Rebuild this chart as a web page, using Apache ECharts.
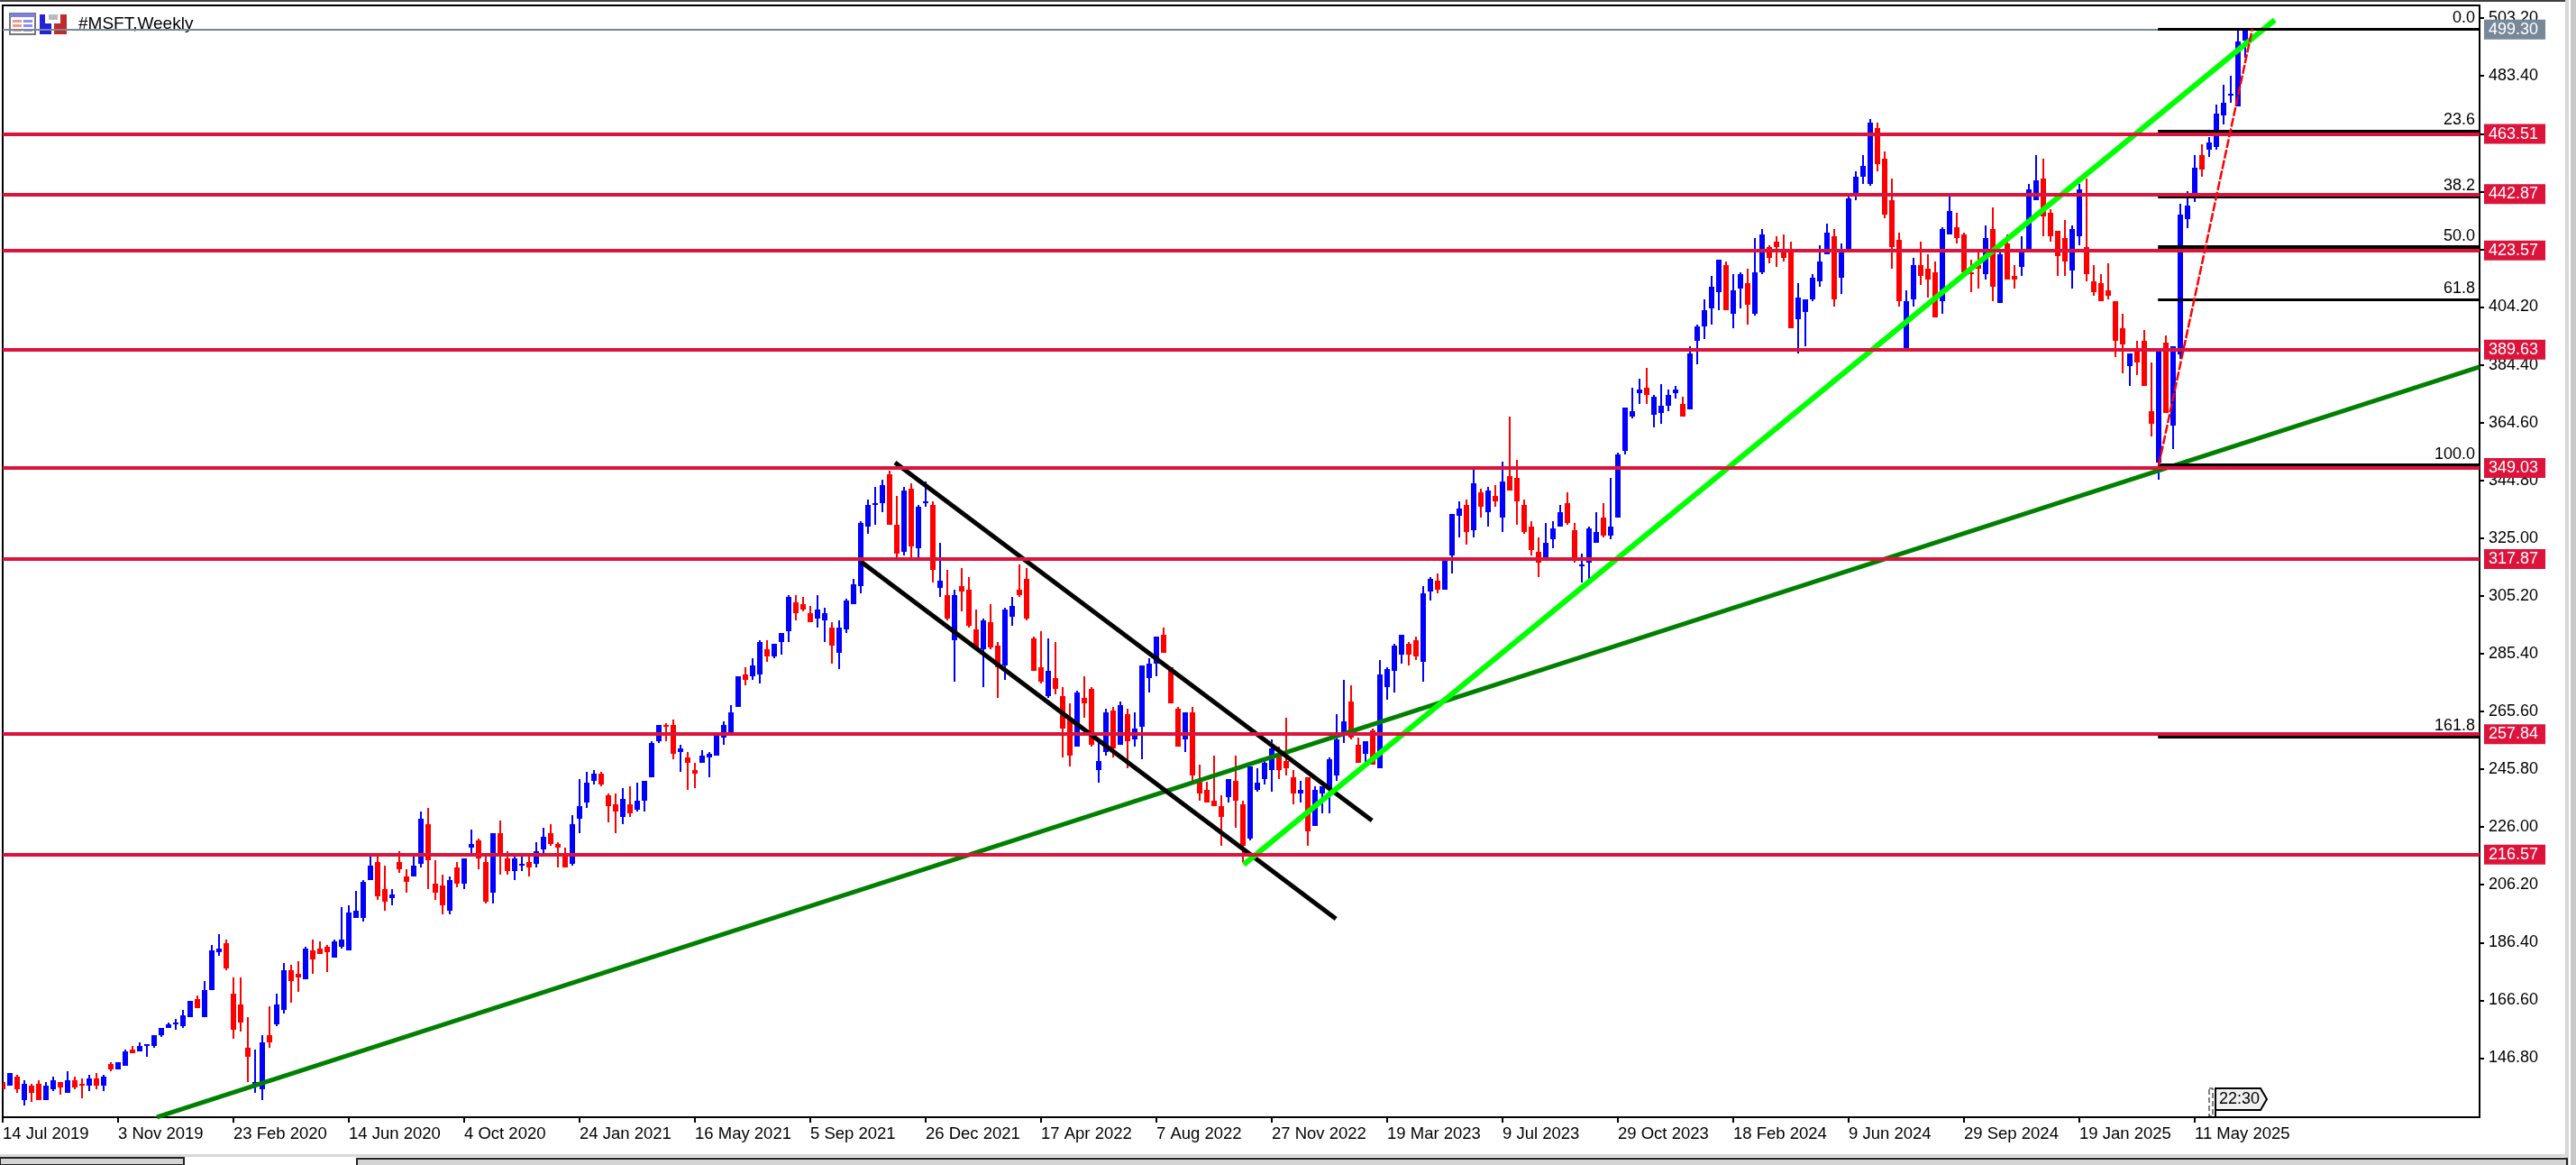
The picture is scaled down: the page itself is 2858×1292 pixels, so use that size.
<!DOCTYPE html>
<html>
<head>
<meta charset="utf-8">
<title>#MSFT,Weekly</title>
<script src="https://cdn.jsdelivr.net/npm/echarts@6/dist/echarts.min.js"></script>
<style>
  html, body { margin: 0; padding: 0; background: #fff; overflow: hidden; }
  #main { width: 2858px; height: 1292px; }
</style>
</head>
<body>
<div id="main"></div>
<script>
// weekly candles, one line per 10 weeks
const opens = [
  138.6,137.4,140.4,132.4,137.4,138.0,132.4,136.1,138.6,134.9,
  139.2,138.0,137.4,139.8,137.4,144.8,142.9,144.2,149.7,149.1,
  151.0,151.0,154.7,157.1,158.4,157.8,160.8,167.0,160.8,170.1,
  183.1,186.2,168.9,165.2,150.3,138.0,136.1,154.7,158.4,163.3,
  176.9,175.7,173.8,183.7,184.3,184.9,181.2,184.9,183.7,194.8,
  194.8,207.8,214.0,204.7,201.6,214.0,209.0,209.0,213.4,227.0,
  206.6,206.0,197.3,212.1,206.6,218.9,221.4,214.0,203.5,223.9,
  215.2,210.9,212.8,214.0,213.4,218.3,223.9,220.2,215.8,213.4,
  228.8,234.4,241.8,244.3,236.8,233.8,229.4,233.8,231.9,235.0,
  243.0,255.4,260.9,260.9,251.7,249.8,245.5,248.0,249.8,250.5,
  256.6,258.5,267.1,278.3,277.6,278.3,286.9,284.4,289.4,293.1,
  303.0,302.4,299.3,297.4,296.8,294.3,285.7,293.7,302.4,308.5,
  329.0,336.4,337.0,346.9,329.6,320.3,341.9,321.5,337.0,336.4,
  307.9,305.5,290.0,308.5,307.3,293.7,286.9,296.2,288.2,281.4,
  298.0,307.3,311.0,290.6,280.7,270.8,277.0,270.8,263.4,253.5,
  270.2,273.3,245.5,251.7,265.9,254.2,264.7,256.0,260.3,277.0,
  282.0,291.9,280.7,266.5,256.0,265.3,241.6,238.7,235.0,233.2,
  236.2,241.8,233.8,222.0,238.7,242.4,245.5,250.5,248.6,243.0,
  237.5,243.0,226.4,237.5,238.7,243.7,258.5,269.0,254.2,251.1,
  259.1,246.1,273.9,279.5,285.1,288.8,290.0,282.6,306.7,310.4,
  307.3,319.1,332.7,336.4,327.7,340.7,333.9,339.5,332.1,346.3,
  345.7,336.4,329.0,320.3,318.3,324.6,329.0,337.0,327.7,315.4,
  316.6,323.4,332.1,325.9,332.1,354.9,366.7,374.7,376.6,367.3,
  367.9,370.4,374.7,371.0,369.1,392.6,397.6,403.8,409.3,418.6,
  401.9,410.6,412.4,401.9,416.1,424.8,426.6,423.5,424.1,400.0,
  402.5,406.8,413.0,422.3,428.5,414.3,424.1,442.1,448.9,446.4,
  465.5,455.0,440.8,427.2,390.2,406.8,418.6,417.3,416.1,406.2,
  429.1,431.6,429.1,416.1,418.6,415.5,430.9,405.6,426.0,414.9,
  417.9,424.1,440.8,448.2,436.5,430.3,427.9,416.7,428.5,424.8,
  413.0,412.4,409.9,406.2,396.9,384.0,388.9,392.6,368.5,350.8,
  392.0,363.6,388.1,434.2,443.2,456.2,458.2,459.2,469.9,476.7,473.1,495.6
];
const highs = [
  138.6,141.7,141.1,139.2,138.0,139.2,138.6,140.4,138.6,142.3,
  140.4,139.8,141.1,141.7,141.1,145.4,145.4,149.7,151.0,152.2,
  151.6,154.7,157.1,159.0,160.2,163.3,166.4,168.3,173.2,185.6,
  189.3,187.4,174.4,174.4,160.8,149.7,154.7,164.6,168.9,179.4,
  178.8,180.0,184.9,187.4,186.8,185.6,187.4,198.5,199.2,204.1,
  207.8,216.4,216.4,212.8,204.7,217.7,211.5,215.8,231.3,232.5,
  214.6,209.6,209.0,214.0,215.2,225.1,222.0,215.8,223.9,228.2,
  217.7,215.8,215.8,215.8,220.8,225.7,227.0,220.8,218.9,230.1,
  242.4,244.9,245.5,244.9,237.5,237.5,239.3,239.9,241.2,241.8,
  255.4,260.9,261.6,262.8,254.2,251.7,248.0,252.3,251.7,257.3,
  262.2,267.8,277.6,280.7,283.8,290.0,290.0,288.8,292.5,305.5,
  305.5,304.8,301.8,305.5,301.1,296.2,296.8,304.2,311.0,330.8,
  338.2,342.5,345.0,348.1,339.4,342.5,343.8,336.4,344.4,337.6,
  323.4,314.1,307.3,314.7,311.6,300.5,297.4,302.4,289.4,301.1,
  304.8,315.9,314.7,291.2,293.1,290.6,289.4,273.9,268.4,272.7,
  277.6,273.9,255.4,266.5,267.1,269.0,266.5,265.3,281.4,283.8,
  291.2,294.3,280.7,267.1,265.3,267.1,247.4,241.6,250.5,236.9,
  242.4,250.5,235.0,246.8,246.1,248.8,256.0,253.5,263.4,245.5,
  241.8,243.2,240.0,240.0,249.8,264.7,276.4,274.6,256.6,255.4,
  259.7,283.2,280.7,288.8,291.9,289.4,291.2,308.5,311.6,312.9,
  317.2,333.3,337.6,338.2,348.7,341.9,342.5,343.2,351.2,366.7,
  351.8,338.2,330.8,325.3,330.2,330.8,336.4,340.7,330.2,319.7,
  329.0,333.9,337.0,345.6,354.3,369.7,376.5,379.6,383.4,374.1,
  377.8,375.9,377.2,373.5,390.8,398.2,406.8,414.9,420.4,419.8,
  415.5,416.1,417.4,427.8,431.0,425.4,428.5,429.1,426.6,412.4,
  406.8,415.5,425.4,432.8,431.0,426.0,442.3,450.7,456.3,468.6,
  467.4,457.5,448.2,429.7,409.9,421.1,426.6,422.3,419.8,431.6,
  442.0,436.5,429.7,420.4,422.9,432.2,438.4,422.9,429.1,418.6,
  428.5,446.4,456.3,455.0,437.7,430.3,434.0,432.2,446.4,448.2,
  418.6,415.5,419.2,406.2,401.9,388.3,392.6,396.3,385.2,388.9,
  394.5,390.8,439.5,443.8,456.2,460.0,462.4,473.6,480.4,483.5,498.9,499.6
];
const lows = [
  136.1,137.4,134.9,130.6,131.8,132.4,132.4,135.5,134.3,134.9,
  136.1,133.0,135.5,136.1,135.5,142.3,142.9,144.2,148.5,149.1,
  147.2,150.3,154.0,157.1,156.5,157.1,160.8,163.9,160.8,170.1,
  181.9,176.9,153.4,155.9,138.6,134.9,132.4,150.3,157.8,162.1,
  165.8,169.5,173.8,175.7,182.5,176.3,181.2,184.3,183.7,194.8,
  193.6,207.8,201.0,197.3,199.2,210.3,203.5,209.0,212.1,204.7,
  201.0,196.1,196.1,205.3,204.7,216.9,211.5,199.8,199.8,209.6,
  209.6,207.8,210.9,209.0,212.1,216.9,219.5,212.1,212.1,212.8,
  223.9,232.5,240.6,239.9,227.6,223.9,227.0,229.4,231.3,231.3,
  243.0,254.8,255.4,249.2,244.9,238.7,239.3,248.0,243.0,250.5,
  254.2,258.5,267.1,274.6,276.4,275.2,282.6,283.8,285.1,289.4,
  296.8,299.9,296.2,294.3,289.4,282.0,280.1,292.5,302.4,306.1,
  326.5,329.6,333.9,329.6,318.4,319.0,318.4,318.4,335.7,309.8,
  304.8,296.8,275.8,299.9,294.3,286.9,273.9,286.9,270.2,276.4,
  294.9,304.8,296.8,279.5,275.2,270.2,271.5,249.8,246.7,253.5,
  263.4,253.5,241.2,250.5,249.8,254.2,246.1,253.5,249.2,272.1,
  277.6,285.7,268.4,253.5,251.7,241.6,235.0,234.4,233.2,219.6,
  234.4,225.7,214.0,221.4,238.1,240.6,238.1,242.4,243.7,233.8,
  234.4,219.6,226.4,230.7,230.7,241.8,254.8,256.0,248.0,248.0,
  247.4,246.1,269.6,272.1,282.0,281.4,283.2,275.8,303.6,306.1,
  307.3,312.9,325.3,322.8,325.3,332.1,329.0,335.8,327.1,341.3,
  329.6,326.5,319.1,311.7,318.3,321.5,329.0,329.6,316.6,309.8,
  311.0,323.4,325.3,324.6,332.1,353.7,366.0,371.0,371.0,362.9,
  364.2,368.5,372.8,366.7,369.1,384.6,393.2,398.2,403.1,403.1,
  397.0,403.8,398.2,401.3,415.5,419.2,418.0,419.8,397.0,388.3,
  390.8,406.2,411.2,422.3,404.4,408.7,424.1,440.8,446.4,445.8,
  450.7,434.6,417.3,404.4,390.2,404.4,411.8,407.5,400.7,401.9,
  429.1,426.0,416.1,409.3,410.5,413.6,406.2,405.6,413.6,410.5,
  414.9,424.1,440.8,428.5,426.6,414.9,414.9,410.5,425.4,413.0,
  408.1,406.2,406.8,387.1,381.5,377.2,380.9,377.2,359.9,345.0,
  367.9,355.5,386.4,431.1,440.2,449.0,455.7,458.2,466.8,474.2,473.1,489.5
];
const closes = [
  136.1,141.7,136.1,138.0,134.9,132.4,137.4,139.2,136.7,139.2,
  136.7,137.4,139.8,137.4,140.4,142.9,145.4,149.1,148.5,151.0,
  151.6,154.7,157.1,158.4,159.0,161.5,166.4,163.9,170.1,183.7,
  184.3,177.5,156.5,159.0,147.2,138.6,152.2,152.2,165.2,176.9,
  173.2,174.4,184.3,180.6,182.5,183.1,186.8,187.4,196.7,197.3,
  207.2,212.8,202.2,200.4,202.9,211.5,207.2,212.8,228.8,214.6,
  203.5,199.2,207.8,206.6,215.2,220.2,215.2,200.4,223.9,215.8,
  210.9,215.2,213.4,212.1,217.7,222.6,220.2,218.9,212.1,227.0,
  233.2,241.2,244.3,240.6,233.1,231.3,235.6,230.7,235.0,241.8,
  254.8,260.9,260.3,251.1,252.9,248.0,244.3,250.5,251.1,257.3,
  260.9,265.3,277.6,276.4,281.4,289.4,284.4,288.8,292.5,304.8,
  299.3,300.5,296.2,300.5,299.3,288.2,294.3,303.6,309.2,330.2,
  336.4,337.0,343.2,329.6,319.7,341.3,322.1,335.7,337.6,314.1,
  310.4,297.4,305.5,306.7,294.9,287.5,296.8,287.5,280.7,300.5,
  301.7,305.5,297.4,279.5,275.8,279.5,273.3,259.7,250.5,272.1,
  268.4,254.2,248.6,265.3,252.9,267.8,255.4,259.7,281.4,282.0,
  291.2,285.7,268.4,253.5,265.3,243.7,237.5,234.4,233.2,229.4,
  242.4,235.0,219.6,246.8,241.2,248.0,252.9,245.5,246.1,237.5,
  238.7,224.5,238.7,240.0,249.2,256.0,262.2,256.6,248.0,255.4,
  247.4,278.3,280.1,288.2,291.9,285.1,284.4,306.1,311.0,307.3,
  317.2,333.3,335.2,327.1,343.8,335.7,341.3,337.6,344.4,341.3,
  337.6,327.1,320.9,316.6,323.4,328.3,333.9,330.2,317.2,316.0,
  328.3,327.1,325.9,329.0,353.7,369.7,368.5,375.9,374.1,373.5,
  370.4,374.1,375.9,366.7,388.3,397.6,403.1,411.2,420.4,403.1,
  409.9,415.5,405.0,416.1,429.1,421.1,424.8,421.1,397.0,407.5,
  406.8,414.3,419.8,429.7,406.8,422.9,441.4,448.9,452.6,467.4,
  453.2,435.9,424.8,406.2,406.2,418.6,414.9,413.6,400.7,430.9,
  437.1,427.9,416.1,415.5,417.3,427.9,411.2,422.3,413.6,413.6,
  422.9,444.5,447.6,435.3,428.5,421.7,419.8,430.9,444.5,415.5,
  409.3,406.2,408.1,392.6,391.4,388.3,385.2,377.2,364.2,388.9,
  367.9,390.8,435.9,439.0,451.9,451.4,460.6,470.5,474.2,477.2,495.1,499.3
];

// bottom axis, every 16 weeks
const xTickIndex = [0,16,32,48,64,80,96,112,128,144,160,176,192,208,224,240,256,272,288,304];
const xTickLabels = ['14 Jul 2019','3 Nov 2019','23 Feb 2020','14 Jun 2020','4 Oct 2020','24 Jan 2021','16 May 2021','5 Sep 2021','26 Dec 2021','17 Apr 2022','7 Aug 2022','27 Nov 2022','19 Mar 2023','9 Jul 2023','29 Oct 2023','18 Feb 2024','9 Jun 2024','29 Sep 2024','19 Jan 2025','11 May 2025'];
const yTicks = [146.8,166.6,186.4,206.2,226,245.8,265.6,285.4,305.2,325,344.8,364.6,384.4,404.2,424,443.8,463.6,483.4,503.2];
const yLabelTicks = [146.8,166.6,186.4,206.2,226,245.8,265.6,285.4,305.2,325,344.8,364.6,384.4,404.2,483.4,503.2];

const redLevels = [463.51,442.87,423.57,389.63,349.03,317.87,257.84,216.57];
const lastPrice = 499.30;

const fibLabels = [0,23.6,38.2,50,61.8,100,161.8];
const fibPrices = [499.6,464.6,441.9,424.7,406.9,350.0,257.0];
const fibWidths = [3,3,3,4,3,4,3];
const fibStart = 298.9;
const fibTrend = [[299,350.0],[312,499.6]];

// trend lines as [week index, price]
const channelUpper = [[123.75,350.9],[189.9,228.2]];
const channelLower = [[119,317.0],[184.9,194.5]];
const longTrend = [[21.4,126.6],[343.5,383.7]];
const fastTrend = [[172.1,213.1],[315.1,502.6]];

const xMax = 343.5;
const yMin = 126.55, yMax = 507.57;
const labelFont = '"Liberation Sans", Arial, sans-serif';

function trendSeries(points, color, width, z) {
  return {
    type: 'line', data: points, showSymbol: false, symbol: 'none', silent: true,
    animation: false, z: z, lineStyle: { color: color, width: width, cap: 'butt' }
  };
}

// candle drawn on whole pixels: 6px body, 2px wick
function renderCandle(params, api) {
  const i = api.value(0), o = api.value(1), h = api.value(2), l = api.value(3), c = api.value(4);
  const x = Math.round(api.coord([i, o])[0]);
  const yHigh = Math.round(api.coord([i, h])[1]);
  const yLow = Math.round(api.coord([i, l])[1]);
  const yTop = Math.round(api.coord([i, Math.max(o, c)])[1]);
  const yBot = Math.round(api.coord([i, Math.min(o, c)])[1]);
  const fill = c >= o ? '#0000ff' : '#ff0000';
  return {
    type: 'group',
    children: [
      { type: 'rect', shape: { x: x - 1, y: yHigh, width: 2, height: Math.max(yLow - yHigh, 2) }, style: { fill: fill } },
      { type: 'rect', shape: { x: x - 3, y: yTop, width: 6, height: Math.max(yBot - yTop, 2) }, style: { fill: fill } }
    ]
  };
}

let myChart = echarts.init(document.getElementById('main'), null, { renderer: 'canvas' });

let options = {
  animation: false,
  backgroundColor: '#fff',
  grid: { left: 3, top: 6, width: 2748, height: 1233, show: true, borderColor: '#000', borderWidth: 2, backgroundColor: '#fff' },
  xAxis: {
    type: 'value', min: 0, max: xMax,
    splitLine: { show: false },
    axisLine: { show: false, onZero: false },
    axisTick: { show: true, length: 6, lineStyle: { color: '#000', width: 2 }, customValues: xTickIndex },
    axisLabel: {
      customValues: xTickIndex, align: 'left', margin: 9, color: '#000',
      fontFamily: labelFont, fontSize: 18.5,
      formatter: v => xTickLabels[xTickIndex.indexOf(v)]
    }
  },
  yAxis: {
    type: 'value', position: 'right', min: yMin, max: yMax,
    splitLine: { show: false },
    axisLine: { show: false, onZero: false },
    axisTick: { show: true, length: 5, lineStyle: { color: '#000', width: 2 }, customValues: yTicks },
    axisLabel: {
      customValues: yLabelTicks, margin: 10, color: '#000',
      fontFamily: labelFont, fontSize: 18,
      formatter: v => v.toFixed(2)
    }
  },
  series: [
    {
      type: 'custom',
      z: 2,
      clip: true,
      silent: true,
      renderItem: renderCandle,
      encode: { x: 0, y: [1, 2, 3, 4] },
      data: opens.map((o, i) => [i, o, highs[i], lows[i], closes[i]])
    },
    trendSeries(longTrend, '#008000', 5, 3),
    trendSeries(channelUpper, '#000000', 5, 3),
    trendSeries(channelLower, '#000000', 5, 3),
    trendSeries(fastTrend, '#00ff00', 6, 3),
    {
      // last price line and tag
      type: 'line', data: [], z: 3, silent: true,
      markLine: {
        z: 3, silent: true, animation: false, symbol: ['none', 'none'],
        lineStyle: { color: '#778899', type: 'solid', width: 2 },
        label: {
          show: true, position: 'end', distance: 5, color: '#fff',
          backgroundColor: '#778899', padding: [2, 8, 2, 5], lineHeight: 18,
          fontFamily: labelFont, fontSize: 18, formatter: p => p.value.toFixed(2)
        },
        data: [{ yAxis: lastPrice }]
      }
    },
    {
      // fibonacci retracement levels
      type: 'line', data: [], z: 4, silent: true,
      markLine: {
        z: 4, silent: true, animation: false, symbol: ['none', 'none'],
        data: fibPrices.map((p, i) => [
          {
            coord: [fibStart, p],
            lineStyle: { color: '#000', type: 'solid', width: fibWidths[i] },
            label: {
              show: true, position: 'insideEndTop', distance: [5, 3],
              formatter: fibLabels[i].toFixed(1), color: '#000',
              fontFamily: labelFont, fontSize: 18
            }
          },
          { coord: [xMax, p] }
        ])
      }
    },
    {
      type: 'line', data: fibTrend, showSymbol: false, symbol: 'none', silent: true, z: 4,
      lineStyle: { color: '#ff0000', width: 2.5, type: [10, 2] }
    },
    {
      // horizontal support and resistance levels
      type: 'line', data: [], z: 5, silent: true,
      markLine: {
        z: 5, silent: true, animation: false, symbol: ['none', 'none'],
        lineStyle: { color: '#dc143c', type: 'solid', width: 4 },
        label: {
          show: true, position: 'end', distance: 5, color: '#fff',
          backgroundColor: '#dc143c', padding: [2, 8, 2, 5], lineHeight: 18,
          fontFamily: labelFont, fontSize: 18, formatter: p => p.value.toFixed(2)
        },
        data: redLevels.map(v => ({ yAxis: v }))
      }
    }
  ],
  graphic: [
    // terminal window chrome
    { type: 'rect', shape: { x: 0, y: 0, width: 2846, height: 2 }, style: { fill: '#404040' }, silent: true },
    { type: 'rect', shape: { x: 2846, y: 0, width: 4, height: 1292 }, style: { fill: '#d8d8d8' }, silent: true },
    { type: 'rect', shape: { x: 2852, y: 0, width: 6, height: 1292 }, style: { fill: '#c8c8c8' }, silent: true },
    { type: 'rect', shape: { x: 0, y: 1280, width: 2846, height: 3 }, style: { fill: '#d8d8d8' }, silent: true },
    { type: 'rect', shape: { x: 0, y: 1284, width: 204, height: 8 }, style: { fill: '#d4d4d4', stroke: '#222', lineWidth: 2 }, silent: true },
    { type: 'rect', shape: { x: 396, y: 1285, width: 2452, height: 8 }, style: { fill: '#d4d4d4', stroke: '#222', lineWidth: 2 }, silent: true },
    // chart-window icons next to the symbol title
    { type: 'rect', shape: { x: 11, y: 15, width: 28, height: 23 }, style: { fill: '#fff', stroke: '#777', lineWidth: 2 }, silent: true },
    { type: 'rect', shape: { x: 11, y: 15, width: 28, height: 4 }, style: { fill: '#7f7fe6' }, silent: true },
    { type: 'rect', shape: { x: 14, y: 22, width: 10, height: 3 }, style: { fill: '#f09a8a' }, silent: true },
    { type: 'rect', shape: { x: 14, y: 27, width: 10, height: 3 }, style: { fill: '#f09a8a' }, silent: true },
    { type: 'rect', shape: { x: 14, y: 32, width: 10, height: 3 }, style: { fill: '#f09a8a' }, silent: true },
    { type: 'rect', shape: { x: 26, y: 22, width: 10, height: 3 }, style: { fill: '#8f8ff0' }, silent: true },
    { type: 'rect', shape: { x: 26, y: 27, width: 10, height: 3 }, style: { fill: '#8f8ff0' }, silent: true },
    { type: 'rect', shape: { x: 26, y: 32, width: 10, height: 3 }, style: { fill: '#8f8ff0' }, silent: true },
    { type: 'polygon', shape: { points: [[44,16],[50,16],[50,26],[57,26],[57,38],[44,38]] }, style: { fill: '#2222dd' }, silent: true },
    { type: 'polygon', shape: { points: [[67,16],[74,16],[74,38],[60,38],[60,26],[67,26]] }, style: { fill: '#c22a2a' }, silent: true },
    { type: 'rect', shape: { x: 54, y: 16, width: 10, height: 6 }, style: { fill: '#bbb' }, silent: true },
    {
      type: 'text', x: 87, y: 27, silent: true,
      style: { text: '#MSFT,Weekly', fill: '#000', font: '19px ' + labelFont, textVerticalAlign: 'middle' }
    },
    // bar countdown flag
    { type: 'rect', shape: { x: 2451, y: 1207, width: 4, height: 31 }, style: { fill: '#fff', stroke: '#000', lineWidth: 1, lineDash: [6, 3] }, silent: true },
    {
      type: 'polygon', silent: true,
      shape: { points: [[2458,1207],[2508,1207],[2515,1219],[2508,1231],[2458,1231]] },
      style: { fill: '#f0f0f0', stroke: '#000', lineWidth: 2 }
    },
    { type: 'line', shape: { x1: 2458, y1: 1207, x2: 2458, y2: 1238 }, style: { stroke: '#000', lineWidth: 2 }, silent: true },
    {
      type: 'text', x: 2462, y: 1219, silent: true,
      style: { text: '22:30', fill: '#000', font: '18px ' + labelFont, textVerticalAlign: 'middle' }
    }
  ]
};
myChart.setOption(options);
</script>
</body>
</html>
